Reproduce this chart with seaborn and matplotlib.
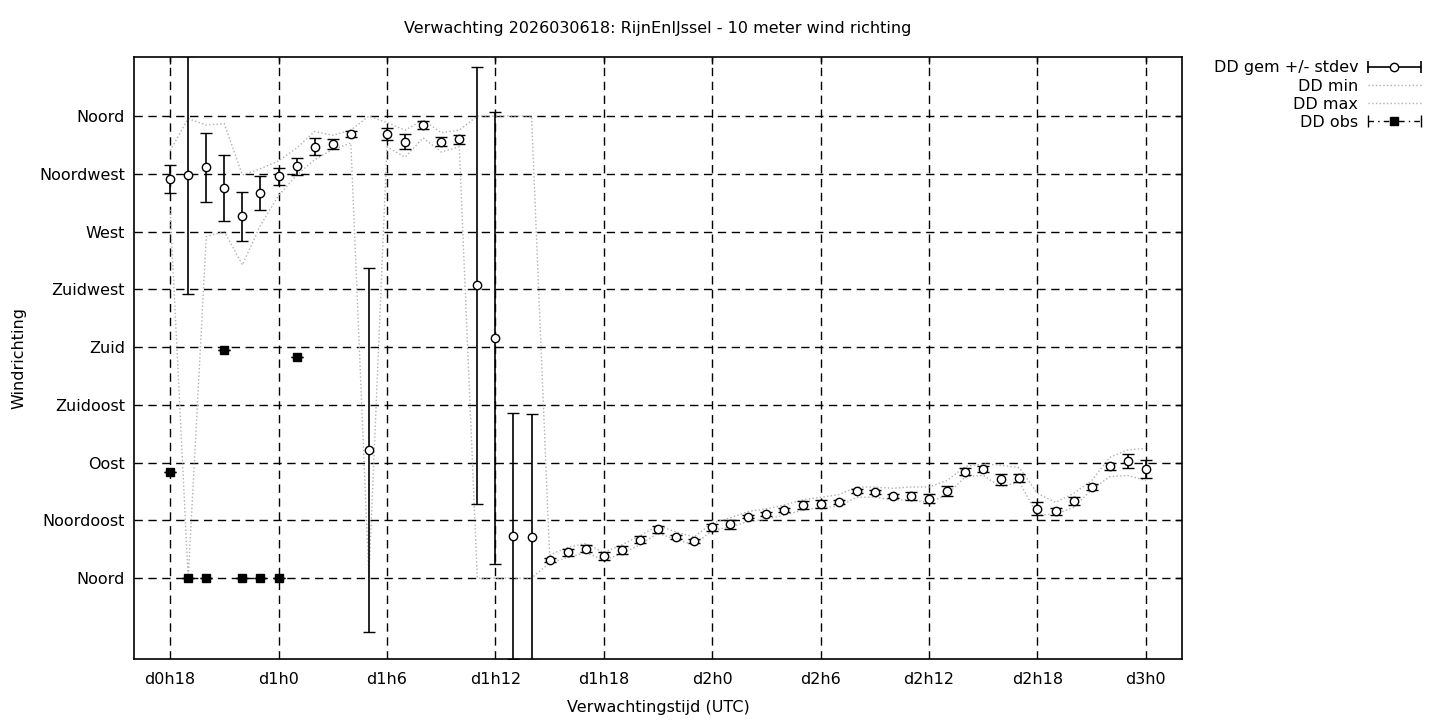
import matplotlib
matplotlib.use('Agg')
import matplotlib.pyplot as plt
import pandas as pd
import seaborn as sns
from matplotlib.lines import Line2D
from matplotlib.legend_handler import HandlerLine2D, HandlerTuple

# uren vanaf d0h0
uren = list(range(18, 73))

dd_gem = [311, 314, 320, 304, 282, 300, 313, 321, 336, 338, 346, 100, 346, 340, 353, 340, 342,
          228, 187, 33, 32, 14, 20, 23, 17, 22, 30, 38, 32, 29, 39.5, 42, 48, 50, 53, 57, 58, 59,
          68, 67, 64, 64, 62, 68, 83, 85, 77, 78, 54, 52, 60, 71, 87, 91, 85]
dd_std = [11, 93, 27, 26, 19, 13, 6.6, 6.6, 6.6, 4, 2.5, 142, 4.7, 5.8, 3.1, 3.5, 3.5,
          170, 176, 96, 96, 1.5, 3, 3, 3, 3, 3, 3, 1.5, 1.5, 3, 3.5, 1.5, 1.5, 1.5, 3, 3, 1.5,
          1.5, 1.5, 1.5, 3, 3.4, 4, 2.5, 2.5, 4.5, 3, 5.2, 2.5, 3.2, 2.7, 3, 5.5, 6.8]
dd_min = [287, 0, 266, 270, 244, 275, 298, 314, 326, 334, 339, 0, 336, 328, 343, 332, 336,
          0, 0, 0, 0, 12, 16, 20, 14, 19, 26, 35, 30, 26, 37, 40, 44, 46, 49, 53, 55, 56,
          63, 63, 61, 61, 59, 65, 79, 80, 71, 75, 49, 50, 55, 69, 79, 80, 76]
dd_max = [333, 358, 353, 354, 314, 319, 325, 335, 348, 345, 349, 360, 355, 349, 357, 347, 349,
          360, 360, 360, 360, 18, 24, 27, 20, 26, 33, 41, 36, 32, 43, 47, 52, 54, 57, 61, 63, 65,
          71, 71, 70, 71, 71, 76, 87, 89, 88, 86, 66, 59, 66, 76, 94, 100, 101]

obs_uren = [18, 19, 20, 21, 22, 23, 24, 25]
dd_obs = [83, 0, 0, 178, 0, 0, 0, 172.5]

xticks = [18, 24, 30, 36, 42, 48, 54, 60, 66, 72]
xlabels = ['d0h18', 'd1h0', 'd1h6', 'd1h12', 'd1h18', 'd2h0', 'd2h6', 'd2h12', 'd2h18', 'd3h0']
yticks = [0, 45, 90, 135, 180, 225, 270, 315, 360]
ylabels = ['Noord', 'Noordoost', 'Oost', 'Zuidoost', 'Zuid', 'Zuidwest', 'West', 'Noordwest', 'Noord']

df = pd.DataFrame({'uur': uren, 'gem': dd_gem, 'std': dd_std, 'min': dd_min, 'max': dd_max})
df_obs = pd.DataFrame({'uur': obs_uren, 'obs': dd_obs})

sns.set_style("white")
plt.rcParams['font.family'] = ['DejaVu Sans']
plt.rcParams['font.size'] = 11.5
for k in ['text.color', 'axes.labelcolor', 'xtick.color', 'ytick.color']:
    plt.rcParams[k] = 'black'

fig = plt.figure(figsize=(14.4, 7.2), dpi=100)
ax = fig.add_axes([134 / 1440, 1 - 659 / 720, (1182 - 134) / 1440, (659 - 57) / 720])

grijs = '#b0b0b0'
sns.lineplot(data=df, x='uur', y='min', ax=ax, color=grijs, lw=1, linestyle=':', legend=False)
sns.lineplot(data=df, x='uur', y='max', ax=ax, color=grijs, lw=1, linestyle=':', legend=False)

ax.errorbar(df['uur'], df['gem'], yerr=df['std'], fmt='o', color='k', ecolor='k', elinewidth=1.2,
            capsize=4.5, capthick=1.2, mfc='white', mec='k', ms=6, mew=1, zorder=5)
ax.errorbar(df_obs['uur'], df_obs['obs'], yerr=0, fmt='s', color='k', capsize=4, capthick=1,
            ms=6, zorder=5)

ax.set_xlim(16, 74)
ax.set_ylim(-63, 406)
ax.set_xticks(xticks)
ax.set_xticklabels(xlabels)
ax.set_yticks(yticks)
ax.set_yticklabels(ylabels)
ax.tick_params(direction='in', length=5, width=1, top=True, right=True, color='k', pad=6.5)
ax.tick_params(axis='x', pad=9)
ax.grid(True, color='k', linestyle=(0, (6, 4)), lw=1)
for s in ax.spines.values():
    s.set_color('k')
    s.set_linewidth(1.2)

ax.set_xlabel('Verwachtingstijd (UTC)', labelpad=10)
ax.set_ylabel('Windrichting', labelpad=9)
ax.set_title('Verwachting 2026030618: RijnEnIJssel - 10 meter wind richting', pad=17, fontsize=11.5)

# legenda in gnuplot-stijl
gem_lijn = Line2D([], [], color='k', lw=1.2, marker='|', ms=8, mew=1.2)
gem_punt = Line2D([], [], color='none', marker='o', mfc='white', mec='k', ms=6, mew=1)
min_lijn = Line2D([], [], color=grijs, lw=1, linestyle=':')
max_lijn = Line2D([], [], color=grijs, lw=1, linestyle=':')
obs_lijn = Line2D([], [], color='k', lw=1, linestyle=(0, (4, 3, 1, 3)), marker='|', ms=8, mew=1)
obs_punt = Line2D([], [], color='none', marker='s', mfc='k', mec='k', ms=6)
hmap = {tuple: HandlerTuple(ndivide=1),
        gem_lijn: HandlerLine2D(numpoints=2, marker_pad=0),
        gem_punt: HandlerLine2D(numpoints=1),
        obs_lijn: HandlerLine2D(numpoints=2, marker_pad=0),
        obs_punt: HandlerLine2D(numpoints=1)}
fig.legend([(gem_lijn, gem_punt), min_lijn, max_lijn, (obs_lijn, obs_punt)],
           ['DD gem +/- stdev', 'DD min', 'DD max', 'DD obs'],
           handler_map=hmap, loc='upper right', bbox_to_anchor=(0.9965, 0.936),
           frameon=False, markerfirst=False, handlelength=3.3, labelspacing=0.2,
           handletextpad=0.6)

plt.savefig('out.png', dpi=100)
